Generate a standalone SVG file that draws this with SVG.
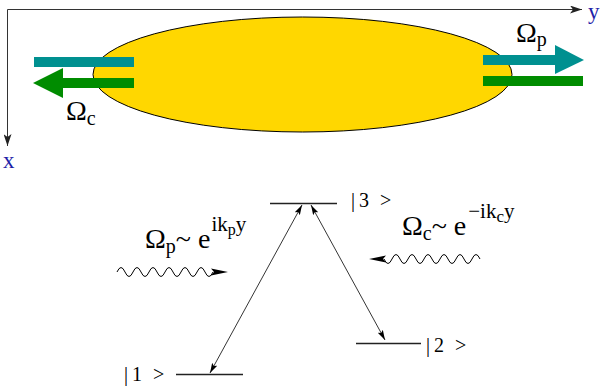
<svg xmlns="http://www.w3.org/2000/svg" width="605" height="391" viewBox="0 0 605 391">
<defs>
<style>
.t{font-family:"Liberation Serif","Times New Roman",serif;fill:#000}
.ax{stroke:#333;stroke-width:1;fill:none}
.lvl{stroke:#222;stroke-width:1.3;fill:none}
.tr{stroke:#000;stroke-width:0.8;fill:none}
.wave{stroke:#000;stroke-width:1;fill:none}
.blue{fill:#1e1ea8}
</style>
<marker id="ah" viewBox="0 0 10 6" refX="10" refY="3" markerWidth="10" markerHeight="6" markerUnits="userSpaceOnUse" orient="auto-start-reverse">
<path d="M0,0 L10,3 L0,6 L2,3 Z" fill="#000"/>
</marker>
<marker id="axh" viewBox="0 0 12 8" refX="12" refY="4" markerWidth="12" markerHeight="8" markerUnits="userSpaceOnUse" orient="auto">
<path d="M0,0 L12,4 L0,8 L3,4 Z" fill="#222"/>
</marker>
</defs>

<g id="axes">
<path class="ax" d="M7.5,9.5 H582" marker-end="url(#axh)"/>
<path class="ax" d="M7.5,9.5 V146" marker-end="url(#axh)"/>
<text class="t blue" x="588" y="19" font-size="23">y</text>
<text class="t blue" x="3" y="168" font-size="23">x</text>
</g>

<g id="cloud">
<ellipse cx="302.5" cy="74.5" rx="209.5" ry="57.5" fill="#ffd700" stroke="#000" stroke-width="1"/>
</g>

<g id="beam-left">
<rect x="34" y="57" width="100" height="10" fill="#009090"/>
<rect x="62" y="78" width="72" height="10" fill="#008c00"/>
<polygon points="33,83 63,68 63,98" fill="#008c00"/>
<text class="t" x="66" y="120" font-size="28">Ω<tspan font-size="20" dy="5">c</tspan></text>
</g>

<g id="beam-right">
<rect x="483" y="55" width="73" height="10" fill="#009090"/>
<polygon points="555,45 584,60 555,74" fill="#009090"/>
<rect x="483" y="76" width="100" height="10" fill="#008c00"/>
<text class="t" x="516" y="42" font-size="28">Ω<tspan font-size="20" dy="4">p</tspan></text>
</g>

<g id="level3">
<path class="lvl" d="M270,203.5 H337"/>
<text class="t" font-size="20" x="351 354 359 370 380" y="207">| 3 &gt;</text>
</g>
<g id="level2">
<path class="lvl" d="M356,343.5 H421"/>
<text class="t" font-size="20" x="426 429 434 445 455" y="352">| 2 &gt;</text>
</g>
<g id="level1">
<path class="lvl" d="M176,374.5 H243"/>
<text class="t" font-size="20" x="124 127 132 143 153" y="381">| 1 &gt;</text>
</g>

<g id="connectors">
<path class="tr" d="M210,373 L302,205" marker-start="url(#ah)" marker-end="url(#ah)"/>
<path class="tr" d="M311,205 L385,340" marker-start="url(#ah)" marker-end="url(#ah)"/>
<path class="wave" d="M117,272 q4,-9 8,0 t8,0 t8,0 t8,0 t8,0 t8,0 t8,0 t8,0 t8,0 t8,0 t8,0 t8,0"/>
<polygon points="211,268.5 228,272 211,275.5 214,272" fill="#000"/>
<path class="wave" d="M480,259 q-4,-9 -8,0 t-8,0 t-8,0 t-8,0 t-8,0 t-8,0 t-8,0 t-8,0 t-8,0 t-8,0 t-8,0 t-8,0"/>
<polygon points="386,255.5 369,259 386,262.5 383,259" fill="#000"/>
</g>

<g id="label-probe">
<text class="t" x="145" y="248" font-size="28">Ω<tspan font-size="20" dy="5">p</tspan><tspan dy="-5">~ e</tspan><tspan font-size="21" dy="-17" dx="1">ik</tspan><tspan font-size="16" dy="4">p</tspan><tspan font-size="21" dy="-4">y</tspan></text>
</g>
<g id="label-coupling">
<text class="t" x="402" y="235" font-size="28">Ω<tspan font-size="20" dy="5">c</tspan><tspan dy="-5">~ e</tspan><tspan font-size="21" dy="-17" dx="2">−ik</tspan><tspan font-size="17" dy="4">c</tspan><tspan font-size="21" dy="-4">y</tspan></text>
</g>
</svg>
